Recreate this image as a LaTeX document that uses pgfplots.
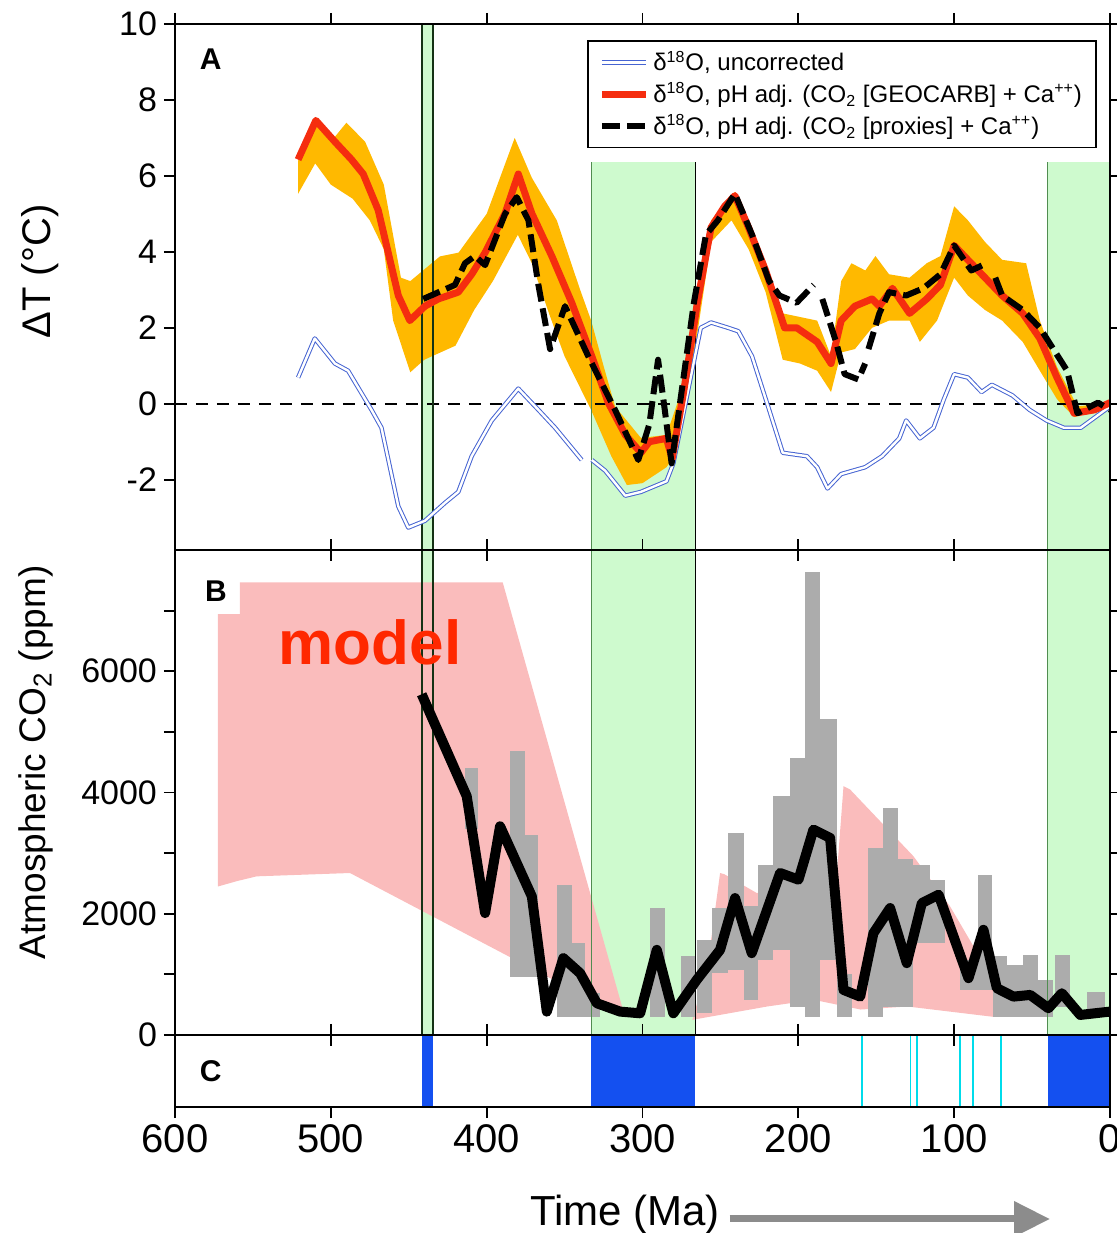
\documentclass[border=0pt]{standalone}
\usepackage{fontspec}
\setmainfont{Liberation Sans}
\usepackage{pgfplots}
\pgfplotsset{compat=1.18}
\usetikzlibrary{arrows.meta}

\definecolor{lgreen}{RGB}{206,250,206}
\definecolor{orangeband}{RGB}{255,185,0}
\definecolor{redline}{RGB}{245,45,15}
\definecolor{pinkband}{RGB}{250,188,188}
\definecolor{greybar}{RGB}{172,172,172}
\definecolor{blueglac}{RGB}{20,80,240}
\definecolor{cyanglac}{RGB}{0,220,235}
\definecolor{bluedelta}{RGB}{70,100,210}
\definecolor{modelred}{RGB}{255,40,0}
\definecolor{darkline}{RGB}{20,50,20}
\definecolor{edgegreen}{RGB}{80,140,80}
\definecolor{arrowgrey}{RGB}{140,140,140}

\pgfplotsset{
  base/.style={scale only axis, width=467.5pt, xmin=0, xmax=600, x dir=reverse,
    anchor=south west,
    tick align=outside, major tick length=5.5pt, minor tick length=5.5pt,
    axis line style={line width=1pt}, tick style={black, line width=0.9pt},
    xtick={0,100,...,600}, xtick pos=both, ytick pos=both,
    axis on top,
    /pgf/number format/assume math mode=true, /pgf/number format/1000 sep={},
    yticklabel style={font=\fontsize{17}{17}\selectfont},
    xticklabel style={font=\fontsize{20}{20}\selectfont}},
  bg/.style={forget plot, draw=none},
}
\newcommand{\gbar}[4]{\addplot[bg, fill=greybar] coordinates {(#1,#3) (#2,#3) (#2,#4) (#1,#4)} -- cycle;}

\begin{document}
\begin{tikzpicture}
\path[use as bounding box] (0,0) rectangle (558pt,616.5pt);

% ---------------- Panel A ----------------
\begin{axis}[base, at={(87.5pt,341.5pt)}, height=263pt,
  ymin=-3.85, ymax=10, ytick={-2,0,2,4,6,8,10}, xticklabels={},
  legend style={at={(0.986,0.9696)}, anchor=north east, draw=black, line width=0.9pt,
    fill=white, font=\fontsize{12}{14}\selectfont, inner xsep=5pt, inner ysep=3pt,
    row sep=0.5pt, cells={anchor=west}},
  legend image code/.code={\draw[#1] (0pt,0pt) -- (22pt,0pt);}]
\addplot[bg, fill=lgreen] coordinates {(441.5,-3.85) (434.5,-3.85) (434.5,10) (441.5,10)} -- cycle;
\addplot[bg, fill=lgreen] coordinates {(333,-3.85) (266,-3.85) (266,6.36) (333,6.36)} -- cycle;
\addplot[bg, fill=lgreen] coordinates {(40,-3.85) (0,-3.85) (0,6.36) (40,6.36)} -- cycle;
% orange uncertainty band
\addplot[bg, fill=orangeband] coordinates {
(521,6.4) (510,7.4) (500,6.9) (490,7.4) (478,6.9) (466,5.77) (455,3.32) (449,3.23)
(430,3.88) (418,3.98) (400,5.0) (382,7.0) (371,5.95) (355,4.83) (340,3.0) (333,2.2)
(325,1.0) (317.6,-0.07) (301,-0.9) (284.6,-0.82) (273.6,0.5) (264.8,2.66) (256,4.83)
(240.7,5.58) (221,3.7) (210,2.38) (187.9,2.19) (179,1.25) (172.5,3.23) (165.9,3.7)
(157,3.51) (150.5,3.89) (141.8,3.41) (128.6,3.32) (117.6,3.7) (108.8,3.89) (100,5.2)
(91.2,4.83) (80.2,4.26) (69.2,3.79) (53.8,3.7) (45,2.19) (34,0.97) (20.9,-0.07) (0,0.03)
(0,-0.07) (23,-0.35) (34,0.12) (45,0.87) (56,1.63) (69.2,2.19) (80.2,2.47) (91.2,2.85)
(100,3.32) (111,2.19) (122,1.63) (128.6,2.19) (141.8,2.19) (152.7,2.0) (163.7,1.44)
(172.5,1.35) (179,0.31) (187.9,0.87) (198.9,1.06) (210,1.16) (221,2.94) (231.9,4.07)
(242.9,4.83) (256,4.26) (267,1.25) (278,-1.29) (284.6,-1.67) (300,-2.09) (310,-2.14)
(320,-1.38) (333,-0.16) (350,1.25) (360,2.38) (371,3.7) (380,4.45) (396,3.23) (408,2.47)
(420,1.53) (440,1.16) (449,0.83) (460,2.19) (466,4.07) (475,4.83) (486,5.4) (500,5.77)
(510,6.33) (521,5.53)} -- cycle;
\addplot[forget plot, black, line width=0.9pt, dash pattern=on 6pt off 4.5pt] coordinates {(600,0) (0,0)};
\addplot[forget plot, darkline, line width=1pt] coordinates {(441.5,-3.85) (441.5,10)};
\addplot[forget plot, darkline, line width=1pt] coordinates {(434.5,-3.85) (434.5,10)};
\addplot[forget plot, black, line width=0.8pt] coordinates {(266,-3.85) (266,6.36)};
\addplot[forget plot, edgegreen, line width=0.5pt] coordinates {(333,-3.85) (333,6.36)};
\addplot[forget plot, edgegreen, line width=0.5pt] coordinates {(40,-3.85) (40,6.36)};
% uncorrected
\addplot[bluedelta, line width=0.5pt, double=white, double distance=1.2pt, line join=round, unbounded coords=jump] coordinates {
(521,0.69) (510.3,1.72) (497.4,1.06) (488.9,0.87) (473.9,-0.16) (467.5,-0.63) (456.7,-2.7)
(450.3,-3.26) (439.6,-3.08) (426.8,-2.61) (418.2,-2.32) (409.6,-1.38) (396.7,-0.44)
(379.7,0.4) (366.8,-0.16) (356.1,-0.63) (339,-1.48) (336,nan) (332.5,-1.48) (324,-1.76)
(311,-2.42) (301,-2.32) (284.6,-2.04) (280.2,-1.57) (262.6,2.0) (256,2.14) (245,2.0)
(238.5,1.91) (229.7,1.25) (218.7,-0.16) (210,-1.29) (194.5,-1.38) (187.9,-1.67)
(181.3,-2.23) (172.5,-1.85) (157.1,-1.67) (146.2,-1.38) (135.2,-0.91) (130.8,-0.44)
(122,-0.91) (113.2,-0.63) (106.6,0.12) (100,0.78) (91.2,0.69) (82.4,0.31) (75.8,0.5)
(62.6,0.22) (51.6,-0.16) (40.7,-0.44) (29.7,-0.63) (18.7,-0.63) (0,-0.07)};
\addlegendentry{δ\textsuperscript{18}O, uncorrected}
% GEOCARB
\addplot[redline, line width=3.5pt, line join=round] coordinates {
(521,6.43) (509.6,7.46) (497.4,6.9) (486.7,6.43) (479.2,6.05) (469.6,5.1) (456.7,2.85)
(449.3,2.19) (439.6,2.57) (431,2.76) (418.2,2.94) (409.6,3.41) (401,3.98) (388.2,5.01)
(379.7,6.05) (371,5.01) (358.2,3.89) (345.4,2.66) (332.5,1.25) (322,0.03) (311,-0.82)
(301,-1.29) (295.6,-1.0) (284.6,-0.91) (281,-1.45) (273.6,0.31) (264.8,2.66) (256,4.64)
(247.3,5.2) (240.7,5.48) (231.9,4.64) (221,3.51) (208.8,2.0) (201,2.0) (187.9,1.63)
(179,1.06) (172.5,2.19) (163.7,2.57) (152.7,2.76) (148,2.57) (139.6,3.04) (128.6,2.38)
(117.6,2.76) (108.8,3.13) (100,4.17) (91.2,3.79) (80.2,3.32) (69.2,2.85) (56,2.38)
(45,1.72) (34,0.69) (23,-0.25) (9.9,-0.16) (0,0.03)};
\addlegendentry{δ\textsuperscript{18}O, pH adj. (CO\textsubscript{2} [GEOCARB] + Ca\textsuperscript{++})}
% proxies
\addplot[black, line width=3pt, dash pattern=on 9pt off 3.5pt, line join=round, unbounded coords=jump] coordinates {
(440.7,2.76) (420.3,3.13) (413.9,3.7) (407.5,3.89) (401,3.65) (388.2,5.0) (380.7,5.44)
(373.2,4.83) (366.8,3.13) (359.3,1.44) (349.7,2.57) (334.8,1.25) (317.6,-0.16)
(302.7,-1.48) (295.6,-0.54) (290,1.16) (285.7,-0.16) (281.3,-1.57) (267,2.66)
(259.3,4.45) (251.6,4.83) (240.7,5.53) (229.7,4.45) (218.7,3.23) (212.1,2.85)
(201.1,2.66) (190.1,3.13) (187,nan) (184.6,2.76) (175.8,1.63) (170.3,0.78) (161.5,0.64)
(157.1,1.06) (156,nan) (155,1.44) (148,2.38) (141.8,2.94) (130.8,2.85) (119.8,3.04)
(108.8,3.41) (100,4.17) (89,3.51) (79.1,3.7) (76,nan) (73.6,3.32) (69.2,2.85) (56,2.47)
(45,2.0) (27.5,0.87) (20.9,-0.25) (7.7,0.03) (0,-0.16)};
\addlegendentry{δ\textsuperscript{18}O, pH adj. (CO\textsubscript{2} [proxies] + Ca\textsuperscript{++})}
\node[font=\fontsize{15}{15}\selectfont\bfseries] at (axis cs:577,9.08) {A};
\end{axis}

% ---------------- Panel B ----------------
\begin{axis}[base, at={(87.5pt,99pt)}, height=242.5pt,
  ymin=0, ymax=8000, ytick={0,2000,4000,6000}, minor ytick={1000,3000,5000,7000},
  xticklabels={}]
\addplot[bg, fill=lgreen] coordinates {(441.5,0) (434.5,0) (434.5,8000) (441.5,8000)} -- cycle;
\addplot[bg, fill=lgreen] coordinates {(333,0) (266,0) (266,8000) (333,8000)} -- cycle;
\addplot[bg, fill=lgreen] coordinates {(40,0) (0,0) (0,8000) (40,8000)} -- cycle;
% model (GEOCARB) range
\addplot[bg, fill=pinkband] coordinates {
(572.4,2450) (572.4,6942) (558.3,6942) (558.3,7466) (389.7,7466) (311.6,331)
(312.3,303) (487.7,2672) (547.6,2617) (560,2540)} -- cycle;
\addplot[bg, fill=pinkband] coordinates {
(268,250) (258.4,1105) (250.2,2672) (247.5,2652) (226.7,2342) (176,2400) (171,4105)
(166.8,4050) (126.1,2948) (102.6,2121) (75,909) (75,300) (130,470) (160,420) (190,580)
(220,470) (268,250)} -- cycle;
% proxy ranges
\gbar{414}{405.5}{3390}{4410}
\gbar{385}{375.3}{964}{4683}
\gbar{375.3}{366.8}{964}{3306}
\gbar{355}{345.4}{303}{2479}
\gbar{345.4}{336.8}{303}{1520}
\gbar{336.8}{327.2}{303}{694}
\gbar{295}{285.5}{303}{2094}
\gbar{275}{266}{303}{1295}
\gbar{265}{255.5}{358}{1570}
\gbar{255.5}{245}{1019}{2094}
\gbar{245}{235}{1074}{3333}
\gbar{235}{225.6}{579}{2121}
\gbar{225.6}{216}{1240}{2810}
\gbar{216}{205.3}{1405}{3939}
\gbar{205.3}{195.6}{468}{4573}
\gbar{195.6}{186}{303}{7631}
\gbar{186}{175.3}{1240}{5218}
\gbar{175.3}{165.7}{303}{1000}
\gbar{155}{145.4}{303}{3086}
\gbar{145.4}{135.8}{468}{3747}
\gbar{135.8}{126.2}{468}{2900}
\gbar{126.2}{115.4}{1516}{2810}
\gbar{115.4}{106}{1520}{2562}
\gbar{96.1}{84.4}{744}{1240}
\gbar{84.4}{75.8}{744}{2645}
\gbar{74.8}{66.2}{303}{1295}
\gbar{66.2}{55.5}{303}{1157}
\gbar{55.5}{45.9}{303}{1322}
\gbar{45.9}{36.3}{303}{909}
\gbar{35.2}{25.5}{468}{1322}
\gbar{14.8}{3.1}{358}{716}
\addplot[forget plot, darkline, line width=1pt] coordinates {(441.5,0) (441.5,8000)};
\addplot[forget plot, darkline, line width=1pt] coordinates {(434.5,0) (434.5,8000)};
\addplot[forget plot, black, line width=0.8pt] coordinates {(266,0) (266,8000)};
\addplot[forget plot, edgegreen, line width=0.5pt] coordinates {(333,0) (333,8000)};
\addplot[forget plot, edgegreen, line width=0.5pt] coordinates {(40,0) (40,8000)};
\addplot[forget plot, black, line width=5pt, line join=round] coordinates {
(441.7,5620) (412.8,3939) (401,2011) (391.4,3443) (371,2286) (361.4,386) (350.8,1268)
(340,1019) (329.3,524) (314.4,386) (301.5,358) (290.8,1405) (280.2,358) (265.2,909)
(250.2,1405) (240.6,2259) (229.9,1350) (211.7,2672) (199.9,2562) (190.3,3388)
(179.6,3251) (171,744) (160.3,633) (151.8,1680) (141.1,2094) (130.4,1185) (120.7,2177)
(110,2314) (90.8,937) (81.2,1736) (72.6,772) (61.9,633) (51.2,661) (39.5,441)
(30.9,689) (19.1,331) (0,386)};
\node[font=\fontsize{15}{15}\selectfont\bfseries, fill=white, inner sep=2pt] at (axis cs:573.7,7322) {B};
\node[font=\fontsize{31}{31}\selectfont\bfseries, text=modelred] at (axis cs:474.8,6479) {model};
\end{axis}

% ---------------- Panel C ----------------
\begin{axis}[base, at={(87.5pt,63pt)}, height=36pt, ymin=0, ymax=1, ytick=\empty]
\addplot[bg, fill=blueglac] coordinates {(441.5,0) (434.5,0) (434.5,1) (441.5,1)} -- cycle;
\addplot[bg, fill=blueglac] coordinates {(333,0) (266,0) (266,1) (333,1)} -- cycle;
\addplot[bg, fill=blueglac] coordinates {(40,0) (0,0) (0,1) (40,1)} -- cycle;
\addplot[forget plot, cyanglac, line width=0.9pt] coordinates {(159,0) (159,1)};
\addplot[forget plot, cyanglac, line width=0.9pt] coordinates {(128,0) (128,1)};
\addplot[forget plot, cyanglac, line width=0.9pt] coordinates {(124,0) (124,1)};
\addplot[forget plot, cyanglac, line width=0.9pt] coordinates {(96,0) (96,1)};
\addplot[forget plot, cyanglac, line width=0.9pt] coordinates {(88,0) (88,1)};
\addplot[forget plot, cyanglac, line width=0.9pt] coordinates {(70,0) (70,1)};
\node[font=\fontsize{15}{15}\selectfont\bfseries] at (axis cs:577,0.5) {C};
\end{axis}

% axis titles and arrow
\node[rotate=90, font=\fontsize{20}{20}\selectfont] at (20pt,480.75pt) {ΔT (°C)};
\node[rotate=90, font=\fontsize{18.5}{18.5}\selectfont] at (18pt,235.25pt) {Atmospheric CO\textsubscript{2} (ppm)};
\node[font=\fontsize{21}{21}\selectfont] at (312.5pt,9pt) {Time (Ma)};
\draw[line width=3.5pt, arrowgrey, -{Triangle[length=18pt,width=17pt]}] (364.75pt,7pt) -- (525pt,7pt);
\end{tikzpicture}
\end{document}
